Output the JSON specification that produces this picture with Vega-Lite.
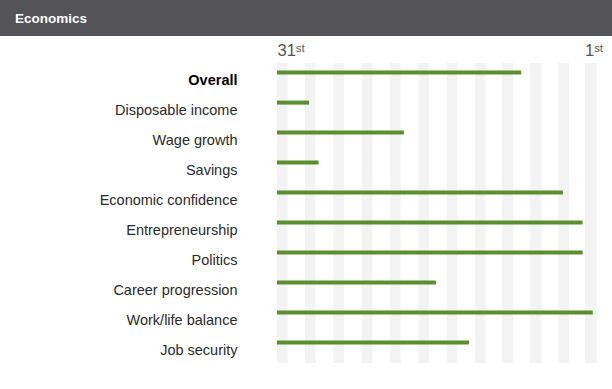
{
  "$schema": "https://vega.github.io/schema/vega-lite/v6.json",
  "padding": 0,
  "spacing": 0,
  "background": "white",
  "config": {"view": {"stroke": null}, "font": "Liberation Sans"},
  "datasets": {
    "scores": [
      {"category": "Overall", "rank": 8.1},
      {"category": "Disposable income", "rank": 28},
      {"category": "Wage growth", "rank": 19.1},
      {"category": "Savings", "rank": 27.1},
      {"category": "Economic confidence", "rank": 4.2},
      {"category": "Entrepreneurship", "rank": 2.35},
      {"category": "Politics", "rank": 2.35},
      {"category": "Career progression", "rank": 16.1},
      {"category": "Work/life balance", "rank": 1.4},
      {"category": "Job security", "rank": 13}
    ],
    "stripes": [
      {"start": 31.0, "end": 30.0},
      {"start": 28.38, "end": 27.38},
      {"start": 25.72, "end": 24.72},
      {"start": 23.06, "end": 22.06},
      {"start": 20.41, "end": 19.41},
      {"start": 17.75, "end": 16.75},
      {"start": 15.09, "end": 14.09},
      {"start": 12.44, "end": 11.44},
      {"start": 9.93, "end": 8.85},
      {"start": 7.28, "end": 6.19},
      {"start": 4.63, "end": 3.63},
      {"start": 2.13, "end": 1.03}
    ]
  },
  "vconcat": [
    {
      "width": 612,
      "height": 36,
      "view": {"fill": "#545358", "stroke": null},
      "data": {"values": [{"section": "Economics"}]},
      "layer": [
        {
          "mark": {"type": "rect", "color": "#545358"},
          "encoding": {}
        },
        {
          "mark": {"type": "text", "color": "white", "fontSize": 13.5, "fontWeight": "bold", "align": "left", "baseline": "alphabetic", "font": "Liberation Sans"},
          "encoding": {
            "text": {"field": "section"},
            "x": {"value": 15},
            "y": {"value": 23}
          }
        }
      ]
    },
    {
      "width": 612,
      "height": 353,
      "layer": [
        {
          "data": {"name": "stripes"},
          "mark": {"type": "rect", "color": "#f3f3f3", "yOffset": -15, "y2Offset": 15},
          "encoding": {
            "x": {"field": "start", "type": "quantitative"},
            "x2": {"field": "end"},
            "y": {"datum": "Overall", "type": "nominal"},
            "y2": {"datum": "Job security"}
          }
        },
        {
          "data": {"name": "scores"},
          "mark": {"type": "rule", "color": "#5b8f2d", "strokeWidth": 4, "strokeCap": "butt"},
          "encoding": {
            "x": {
              "field": "rank",
              "type": "quantitative",
              "scale": {"domain": [31, 1], "range": [277, 597], "nice": false, "zero": false},
              "axis": {
                "orient": "top",
                "values": [31, 1],
                "labelExpr": "datum.value == 31 ? '31ˢᵗ' : '1ˢᵗ'",
                "offset": -19,
                "domain": false,
                "ticks": false,
                "tickSize": 0,
                "grid": false,
                "labelPadding": 0,
                "labelFontSize": 16.5,
                "labelColor": "#555555",
                "labelBaseline": "alphabetic",
                "labelFlush": false,
                "labelOverlap": false,
                "labelAlign": {"condition": {"test": "datum.value == 31", "value": "left"}, "value": "right"},
                "labelOffset": {"condition": {"test": "datum.value == 31", "value": 0}, "value": 6},
                "title": null
              }
            },
            "x2": {"datum": 31},
            "y": {
              "field": "category",
              "type": "nominal",
              "bandPosition": 0.32,
              "scale": {
                "domain": ["Overall", "Disposable income", "Wage growth", "Savings", "Economic confidence", "Entrepreneurship", "Politics", "Career progression", "Work/life balance", "Job security"],
                "range": [27, 327],
                "paddingInner": 0,
                "paddingOuter": 0
              },
              "axis": {
                "orient": "left",
                "offset": -237,
                "domain": false,
                "ticks": false,
                "tickSize": 0,
                "labelPadding": 0,
                "labelOffset": 2.5,
                "labelFontSize": 14.5,
                "labelLimit": 300,
                "labelColor": {"condition": {"test": "datum.value == 'Overall'", "value": "#000000"}, "value": "#2a2a2a"},
                "labelFontWeight": {"condition": {"test": "datum.value == 'Overall'", "value": "bold"}, "value": "normal"},
                "title": null
              }
            }
          }
        }
      ]
    }
  ]
}
